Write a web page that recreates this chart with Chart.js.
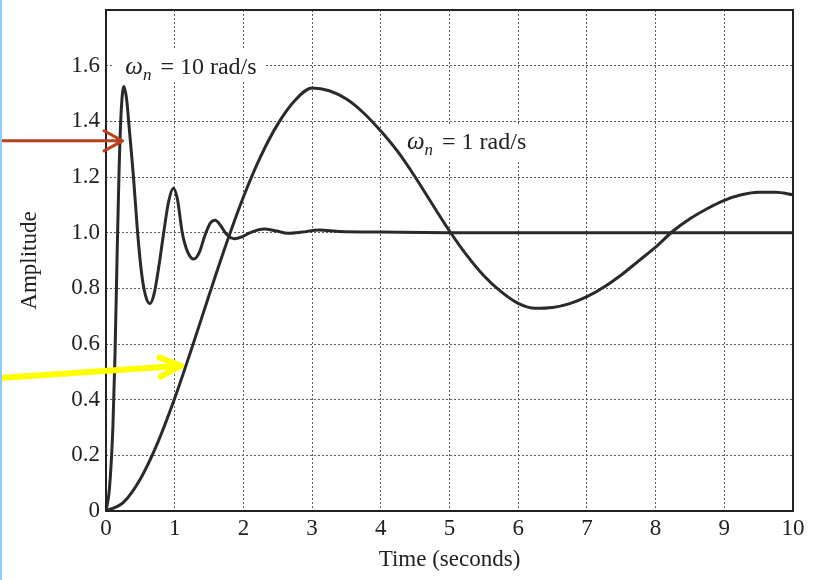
<!DOCTYPE html>
<html>
<head>
<meta charset="utf-8">
<title>Step response</title>
<script src="https://cdn.jsdelivr.net/npm/chart.js@4.4.1/dist/chart.umd.min.js"></script>
<style>
body{margin:0;background:#fff;}
#wrap{position:relative;width:825px;height:580px;}
#edge{position:absolute;left:0;top:0;width:2px;height:580px;background:#8ccffc;}
</style>
</head>
<body>
<div id="wrap">
<canvas id="stepChart" width="825" height="580"></canvas>
<div id="edge"></div>
</div>

<script>

// Data

const seriesNames = ["ωn = 10 rad/s", "ωn = 1 rad/s"];

const timeFast = [0,0.05,0.1,0.13,0.16,0.19,0.22,0.26,0.3,0.34,0.4,0.46,0.52,0.58,0.64,0.7,0.77,0.84,0.91,0.98,1.04,1.11,1.19,1.28,1.36,1.44,1.52,1.59,1.67,1.75,1.87,1.98,2.1,2.3,2.48,2.65,2.85,3.1,3.4,4,5,6,7,8,9,10];
const ampFast = [0,0.08,0.3,0.55,0.9,1.22,1.43,1.525,1.48,1.37,1.2,1.0,0.85,0.77,0.745,0.78,0.88,1.0,1.11,1.16,1.12,1.0,0.93,0.905,0.93,0.99,1.035,1.045,1.025,0.995,0.978,0.985,1.0,1.013,1.006,0.998,1.002,1.01,1.004,1.002,1.0,1.0,1.0,1.0,1.0,1.0];

const timeSlow = [0,0.25,0.5,0.75,1,1.25,1.5,1.75,2,2.25,2.5,2.75,3,3.25,3.5,3.75,4,4.25,4.5,4.75,5,5.25,5.5,5.75,6,6.25,6.5,6.75,7,7.25,7.5,7.75,8,8.25,8.5,8.75,9,9.25,9.5,9.75,10];
const ampSlow = [0,0.03,0.115,0.244,0.405,0.586,0.775,0.959,1.128,1.273,1.39,1.475,1.52,1.51,1.48,1.43,1.365,1.29,1.2,1.102,1.006,0.919,0.845,0.788,0.746,0.728,0.731,0.745,0.77,0.805,0.848,0.898,0.948,1.005,1.05,1.086,1.116,1.136,1.145,1.145,1.136];

const timeTicks = [0,1,2,3,4,5,6,7,8,9,10];
const ampTicks = [0,0.2,0.4,0.6,0.8,1.0,1.2,1.4,1.6];

// curve labels and arrows, placed in data units
const noteRest = [" = 10 rad/s", " = 1 rad/s"];
const noteTime = [0.28, 4.38];
const noteAmp = [1.571, 1.30];

const arrowFrom = [[-1.53,1.33],[-1.535,0.478]];
const arrowTo = [[0.24,1.33],[1.09,0.522]];


function toPoints(xs, ys){
let pts = [];
for(let i=0;i<xs.length;i++){
pts.push({x:xs[i], y:ys[i]});
}
return pts;
}

const serif = "'Liberation Serif', 'Times New Roman', serif";

// draws ω with subscript n then the rest, returns width
function omegaLabel(ctx, x, y, rest, draw){
ctx.font = "italic 25px " + serif;
let w = 0;
if(draw) ctx.fillText("ω", x, y);
w += ctx.measureText("ω").width;
ctx.font = "italic 17px " + serif;
if(draw) ctx.fillText("n", x + w, y + 6);
w += ctx.measureText("n").width + 3;
ctx.font = "24px " + serif;
if(draw) ctx.fillText(rest, x + w, y);
w += ctx.measureText(rest).width;
return w;
}

function arrow(ctx, x0, y0, x1, y1, color, width, len, spread){
let a = Math.atan2(y1 - y0, x1 - x0);
ctx.save();
ctx.strokeStyle = color;
ctx.lineWidth = width;
ctx.lineCap = "round";
ctx.lineJoin = "round";
ctx.beginPath();
ctx.moveTo(x0, y0);
ctx.lineTo(x1, y1);
ctx.moveTo(x1 - len*Math.cos(a - spread), y1 - len*Math.sin(a - spread));
ctx.lineTo(x1, y1);
ctx.lineTo(x1 - len*Math.cos(a + spread), y1 - len*Math.sin(a + spread));
ctx.stroke();
ctx.restore();
}

const notes = {
id: "notes",
beforeDatasetsDraw(chart){
const ctx = chart.ctx;
const xs = chart.scales.x;
const ys = chart.scales.y;
ctx.save();
ctx.textAlign = "left";
ctx.textBaseline = "alphabetic";
for(let i=0;i<noteRest.length;i++){
let px = xs.getPixelForValue(noteTime[i]);
let py = ys.getPixelForValue(noteAmp[i]);
let w = omegaLabel(ctx, px, py, noteRest[i], false);
let padL = i===0 ? 13 : 8;
ctx.fillStyle = "#fff";
ctx.fillRect(px - padL, py - 24, w + padL + 8, i===0 ? 31 : 36);
ctx.fillStyle = "#222";
omegaLabel(ctx, px, py, noteRest[i], true);
}
ctx.restore();
},
afterDraw(chart){
const ctx = chart.ctx;
const a = chart.chartArea;
const xs = chart.scales.x;
const ys = chart.scales.y;
ctx.save();
ctx.strokeStyle = "#222";
ctx.lineWidth = 2;
ctx.strokeRect(a.left, a.top, a.right - a.left, a.bottom - a.top);
ctx.restore();
const colors = ["#b8401c", "#ffff00"];
const widths = [3, 6];
for(let i=0;i<arrowFrom.length;i++){
arrow(ctx,
xs.getPixelForValue(arrowFrom[i][0]), ys.getPixelForValue(arrowFrom[i][1]),
xs.getPixelForValue(arrowTo[i][0]), ys.getPixelForValue(arrowTo[i][1]),
colors[i], widths[i], i===0 ? 21 : 23, i===0 ? 0.5 : 0.43);
}
}
};

// Chart

window.onload = function(){

new Chart(
document.getElementById("stepChart"),
{
type:"line",
data:{
datasets:[
{
label:seriesNames[0],
data:toPoints(timeFast, ampFast),
borderColor:"#2a2a2a",
borderWidth:3,
pointRadius:0,
cubicInterpolationMode:"monotone",
fill:false
},
{
label:seriesNames[1],
data:toPoints(timeSlow, ampSlow),
borderColor:"#2a2a2a",
borderWidth:3,
pointRadius:0,
cubicInterpolationMode:"monotone",
fill:false
}
]
},
options:{
responsive:false,
animation:false,
layout:{padding:{left:0,right:32,top:10,bottom:0}},
plugins:{
legend:{display:false},
tooltip:{enabled:false}
},
scales:{
x:{
type:"linear",
min:0,
max:10,
afterFit:function(s){ s.height = 69; s.paddingLeft = 0; s.paddingRight = 0; },
afterBuildTicks:function(s){ s.ticks = timeTicks.map(v => ({value:v})); },
ticks:{
font:{family:serif,size:23},
color:"#222",
padding:4,
maxRotation:0,
callback:function(v){ return String(v); }
},
grid:{color:"#5a5a5a",lineWidth:1,drawTicks:false},
border:{display:false,dash:[2,2]},
title:{
display:true,
text:"Time (seconds)",
font:{family:serif,size:23},
color:"#222",
padding:{top:0,bottom:6}
}
},
y:{
min:0,
max:1.8,
afterFit:function(s){ s.width = 106; s.paddingTop = 0; s.paddingBottom = 0; },
afterBuildTicks:function(s){ s.ticks = ampTicks.concat([1.8]).map(v => ({value:v})); },
ticks:{
font:{family:serif,size:23},
color:"#222",
padding:6,
callback:function(v){
if(v > 1.7) return "";
return v === 0 ? "0" : v.toFixed(1);
}
},
grid:{color:"#5a5a5a",lineWidth:1,drawTicks:false},
border:{display:false,dash:[2,2]},
title:{
display:true,
text:"Amplitude",
font:{family:serif,size:23},
color:"#222",
padding:{top:16,bottom:0}
}
}
}
},
plugins:[notes]
}
);

};

</script>
</body>
</html>
